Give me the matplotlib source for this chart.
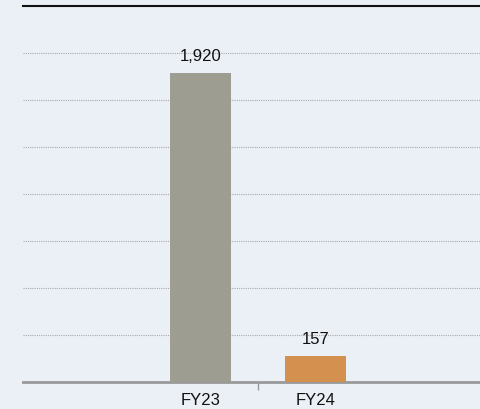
import numpy as np
import matplotlib
matplotlib.use('Agg')
import matplotlib.pyplot as plt

categories = ['FY23', 'FY24']
values = [1920, 157]
value_labels = ['1,920', '157']
bar_colors = ['#9e9d91', '#d4904e']

plt.rcParams['font.family'] = ['Liberation Sans', 'DejaVu Sans']

W, H = 481, 410
fig = plt.figure(figsize=(W / 100, H / 100), dpi=100)
fig.patch.set_facecolor('#ebeff6')

# axes box in pixel coords: left 23, right 481, top 7.3, bottom 382.7
ax = fig.add_axes([23 / W, (H - 382.7) / H, (481 - 23) / W, (382.7 - 7.3) / H])
ax.set_facecolor('none')

ymax = 1920 * 375.4 / 308.7
ax.set_ylim(0, ymax)
ax.set_xlim(-1.543, 2.439)

x = np.arange(len(categories))
ax.bar(x, values, width=0.53, color=bar_colors, zorder=3)

for xi, v, lab in zip(x, values, value_labels):
    ax.annotate(lab, (xi, v), xytext=(0, 7.5), textcoords='offset points',
                ha='center', va='bottom', fontsize=12, color='#111111')

# dotted grid
for gy in np.linspace(0, ymax, 9)[1:-1]:
    ax.axhline(gy, color='#aaaaaa', lw=0.8, ls=(0, (1, 1)), zorder=1)

ax.set_yticks([])
ax.set_xticks([0.5])
ax.set_xticklabels([])
ax.tick_params(axis='x', length=6, width=1, color='#999999', direction='out')

for s in ['left', 'right']:
    ax.spines[s].set_visible(False)
ax.spines['top'].set_color('#111111')
ax.spines['top'].set_linewidth(1.5)
ax.spines['bottom'].set_color('#999999')
ax.spines['bottom'].set_linewidth(2)

for xi, c in zip(x, categories):
    ax.annotate(c, (xi, 0), xytext=(0, -7.5), textcoords='offset points',
                ha='center', va='top', fontsize=12, color='#111111')

fig.savefig('out.png', dpi=100, facecolor=fig.get_facecolor())
